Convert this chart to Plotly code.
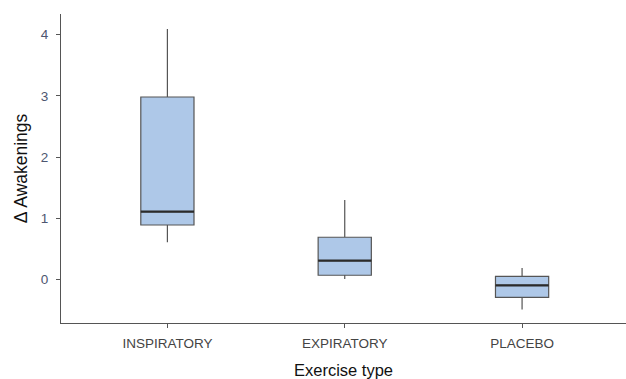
import plotly.graph_objects as go

categories = ["INSPIRATORY", "EXPIRATORY", "PLACEBO"]
lower_whisker = [0.61, 0.01, -0.49]
q1_vals = [0.89, 0.07, -0.29]
median_vals = [1.11, 0.31, -0.095]
q3_vals = [2.98, 0.69, 0.05]
upper_whisker = [4.09, 1.30, 0.19]
y_ticks = [0, 1, 2, 3, 4]

box_width = 0.3
xpos = list(range(len(categories)))

fig = go.Figure()
fig.add_trace(go.Box(
    x=xpos,
    q1=q1_vals, median=median_vals, q3=q3_vals,
    lowerfence=lower_whisker, upperfence=upper_whisker,
    fillcolor="#aec8e8",
    line=dict(color="#555555", width=1.2),
    whiskerwidth=0,
    width=box_width,
    boxpoints=False,
    hoverinfo="skip",
    showlegend=False,
))

# thicker median segments (as ggplot draws them)
mx, my = [], []
for i, m in zip(xpos, median_vals):
    mx += [i - box_width / 2, i + box_width / 2, None]
    my += [m, m, None]
fig.add_trace(go.Scatter(x=mx, y=my, mode="lines",
                         line=dict(color="#2b2b2b", width=2.2),
                         hoverinfo="skip", showlegend=False))

fig.update_layout(
    width=626, height=379,
    margin=dict(l=61, r=0, t=14, b=56),
    paper_bgcolor="white", plot_bgcolor="white",
    font=dict(family="Liberation Sans, Arial, sans-serif", color="#444444", size=13),
    xaxis=dict(
        range=[-0.6, 2.586], automargin=False,
        tickvals=xpos, ticktext=categories,
        showline=True, linecolor="#555555", linewidth=1,
        ticks="outside", ticklen=4, tickcolor="#555555",
        ticklabelstandoff=4,
        showgrid=False, zeroline=False,
        tickfont=dict(size=13.5, color="#444444"),
        title=dict(text="Exercise type", font=dict(size=16.5, color="#111111"), standoff=18),
    ),
    yaxis=dict(
        range=[-0.71, 4.335], automargin=False,
        tickvals=y_ticks,
        showline=True, linecolor="#555555", linewidth=1,
        ticks="outside", ticklen=4, tickcolor="#555555",
        ticklabelstandoff=5,
        showgrid=False, zeroline=False,
        tickfont=dict(size=13.5, color="#4d5670"),
        title=dict(text="Δ Awakenings", font=dict(size=17.5, color="#111111"), standoff=8),
    ),
)

fig.write_html(
    "out.html",
    config={"displayModeBar": False},
    post_script="document.body.style.margin='0';document.body.style.overflow='hidden';",
)
